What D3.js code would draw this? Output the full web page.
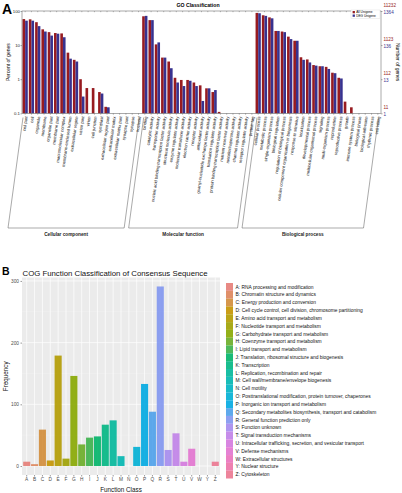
<!DOCTYPE html>
<html>
<head>
<meta charset="utf-8">
<script src="https://cdn.jsdelivr.net/npm/d3@7/dist/d3.min.js"></script>
<style>body { margin: 0; background: #fff; }</style>
</head>
<body>
<div id="canvas"></div>
<script>
"use strict"

/* ---- data: panel A, GO classification (percent of genes) ---- */
let ccTerms = ["cell part", "cell", "organelle", "membrane", "organelle part", "membrane part",
    "macromolecular complex", "membrane-enclosed lumen", "extracellular region", "virion part", "virion",
    "cell junction", "symplast", "extracellular region part", "extracellular matrix",
    "extracellular matrix part", "synapse part", "synapse", "nucleoid"];
let ccAll = [58, 57, 47, 29, 24, 22.6, 22, 6, 3.7, 1.0, 0.55, 0.55, 0.42, 0.155, 0, 0, 0, 0, 0];
let ccDeg = [52, 52, 36, 25, 19, 21.6, 17, 4, 3.3, 0.31, 0, 0, 0.38, 0.15, 0, 0, 0, 0, 0];

let mfTerms = ["binding", "catalytic activity", "transporter activity",
    "nucleic acid binding transcription factor activity", "structural molecule activity",
    "enzyme regulator activity", "molecular transducer activity", "electron carrier activity",
    "receptor activity", "antioxidant activity", "guanyl-nucleotide exchange factor activity",
    "translation regulator activity", "protein binding transcription factor activity",
    "nutrient reservoir activity", "metallochaperone activity", "channel regulator activity",
    "receptor regulator activity", "protein tag"];
let mfAll = [70, 54, 10.5, 4.3, 3.3, 1.1, 0.95, 0.95, 0.8, 0.66, 0.54, 0.42, 0.11, 0, 0, 0, 0, 0];
let mfDeg = [72, 54, 12, 4.3, 2.1, 0.8, 0.63, 0.9, 0.63, 0.23, 0.54, 0.48, 0, 0, 0, 0, 0, 0];

let bpTerms = ["cellular process", "metabolic process", "single-organism process", "biological regulation",
    "regulation of biological process", "cellular component organization or biogenesis",
    "response to stimulus", "localization", "developmental process", "multicellular organismal process",
    "signaling", "multi-organism process", "reproduction", "reproductive process", "growth",
    "immune system process", "biological phase", "biological adhesion", "rhythmic process", "cell killing"];
let bpAll = [88, 75, 65, 26, 25, 17.7, 13.4, 4.4, 3.8, 2.6, 2.4, 2.3, 1.55, 1.1, 0.22, 0.15, 0, 0, 0, 0];
let bpDeg = [86, 72, 61, 26, 24, 15, 13.4, 3.7, 3.1, 2.5, 2.4, 2.0, 1.5, 1.05, 0, 0, 0, 0, 0, 0];

let goGroups = ["Cellular component", "Molecular function", "Biological process"];
let pctTicks = [0.1, 1, 10, 100];
let pctTickLabels = ["0.1", "1", "10", "100"];
let allGeneTicks = ["11", "112", "1123", "11232"];
let degGeneTicks = ["1", "13", "136", "1364"];
let goSeries = ["All Unigene", "DEG Unigene"];

/* ---- data: panel B, COG classification ---- */
let cogClasses = ["A", "B", "C", "D", "E", "F", "G", "H", "I", "J", "K", "L", "M",
    "N", "O", "P", "Q", "R", "S", "T", "U", "V", "W", "Y", "Z"];
let cogCounts = [7, 3, 59, 9, 179, 12, 146, 35, 46, 48, 67, 74, 16,
    0, 31, 133, 88, 291, 26, 53, 7, 28, 0, 0, 7];
let cogNames = ["RNA processing and modification", "Chromatin structure and dynamics",
    "Energy production and conversion", "Cell cycle control, cell division, chromosome partitioning",
    "Amino acid transport and metabolism", "Nucleotide transport and metabolism",
    "Carbohydrate transport and metabolism", "Coenzyme transport and metabolism",
    "Lipid transport and metabolism", "Translation, ribosomal structure and biogenesis",
    "Transcription", "Replication, recombination and repair", "Cell wall/membrane/envelope biogenesis",
    "Cell motility", "Posttranslational modification, protein turnover, chaperones",
    "Inorganic ion transport and metabolism",
    "Secondary metabolites biosynthesis, transport and catabolism", "General function prediction only",
    "Function unknown", "Signal transduction mechanisms",
    "Intracellular trafficking, secretion, and vesicular transport", "Defense mechanisms",
    "Extracellular structures", "Nuclear structure", "Cytoskeleton"];
let cogTicks = [0, 100, 200, 300];

/* ---- drawing config ---- */
let svgWidth = 402;
let svgHeight = 493;
let font = "'Liberation Sans', Arial, Helvetica, sans-serif";
let red = "#971b20";
let blue = "#38328f";

// polar LUV -> sRGB hex, same colour space as ggplot's default hue palette
function hclLuv(h, c, l) {
    let Xn = 95.047, Yn = 100, Zn = 108.883;
    let un = 4 * Xn / (Xn + 15 * Yn + 3 * Zn);
    let vn = 9 * Yn / (Xn + 15 * Yn + 3 * Zn);
    let hr = h * Math.PI / 180;
    let u = c * Math.cos(hr), v = c * Math.sin(hr);
    let Y = l > 8 ? Yn * Math.pow((l + 16) / 116, 3) : Yn * l / 903.3;
    let up = u / (13 * l) + un, vp = v / (13 * l) + vn;
    let X = Y * 9 * up / (4 * vp);
    let Z = Y * (12 - 3 * up - 20 * vp) / (4 * vp);
    X /= 100; Y /= 100; Z /= 100;
    let rgb = [
        3.2404542 * X - 1.5371385 * Y - 0.4985314 * Z,
        -0.9692660 * X + 1.8760108 * Y + 0.0415560 * Z,
        0.0556434 * X - 0.2040259 * Y + 1.0572252 * Z
    ].map(function (t) {
        t = t <= 0.0031308 ? 12.92 * t : 1.055 * Math.pow(t, 1 / 2.4) - 0.055;
        return Math.round(Math.max(0, Math.min(1, t)) * 255);
    });
    return d3.rgb(rgb[0], rgb[1], rgb[2]).formatHex();
}

let svg = d3.select("#canvas")
    .append("svg")
    .attr("width", svgWidth)
    .attr("height", svgHeight)
    .style("font-family", font);

/**************** Panel A ****************/
let goLeft = 22, goRight = 381, goTop = 11, goBottom = 113.3;

let groups = [
    { name: goGroups[0], terms: ccTerms, all: ccAll, deg: ccDeg },
    { name: goGroups[1], terms: mfTerms, all: mfAll, deg: mfDeg },
    { name: goGroups[2], terms: bpTerms, all: bpAll, deg: bpDeg }
];
let rows = [];
groups.forEach(function (g, gi) {
    g.terms.forEach(function (t, i) {
        rows.push({ term: t, group: gi, all: g.all[i], deg: g.deg[i] });
    });
});

let xGo = d3.scaleBand()
    .domain(rows.map(function (d) { return d.term; }))
    .range([goLeft, goRight]);

let xPair = d3.scaleBand()
    .domain(["all", "deg"])
    .range([0, xGo.bandwidth()])
    .paddingOuter(0.2);

let yGo = d3.scaleLog()
    .domain([0.1, 100])
    .range([goBottom, goTop]);

svg.append("text")
    .attr("x", 2)
    .attr("y", 14)
    .attr("font-size", 14)
    .attr("font-weight", "bold")
    .text("A");

svg.append("text")
    .attr("x", 198)
    .attr("y", 6.5)
    .attr("text-anchor", "middle")
    .attr("font-size", 5.2)
    .attr("font-weight", "bold")
    .text("GO Classification");

// bars
let goBars = svg.append("g");
goBars.selectAll("rect.all")
    .data(rows.filter(function (d) { return d.all > 0; }))
    .join("rect")
    .attr("class", "all")
    .attr("x", function (d) { return xGo(d.term) + xPair("all"); })
    .attr("y", function (d) { return yGo(d.all); })
    .attr("width", xPair.bandwidth())
    .attr("height", function (d) { return yGo(0.1) - yGo(d.all); })
    .attr("fill", red);

goBars.selectAll("rect.deg")
    .data(rows.filter(function (d) { return d.deg > 0; }))
    .join("rect")
    .attr("class", "deg")
    .attr("x", function (d) { return xGo(d.term) + xPair("deg"); })
    .attr("y", function (d) { return yGo(d.deg); })
    .attr("width", xPair.bandwidth())
    .attr("height", function (d) { return yGo(0.1) - yGo(d.deg); })
    .attr("fill", blue);

// frame
svg.append("rect")
    .attr("x", goLeft)
    .attr("y", goTop)
    .attr("width", goRight - goLeft)
    .attr("height", goBottom - goTop)
    .attr("fill", "none")
    .attr("stroke", "#555")
    .attr("stroke-width", 0.5);

// category ticks, top and bottom
let xAxisB = svg.append("g")
    .attr("transform", "translate(0," + goBottom + ")")
    .call(d3.axisBottom(xGo).tickSize(1.5).tickFormat("").tickSizeOuter(0));
let xAxisT = svg.append("g")
    .attr("transform", "translate(0," + goTop + ")")
    .call(d3.axisBottom(xGo).tickSize(1.2).tickFormat("").tickSizeOuter(0));
[xAxisB, xAxisT].forEach(function (a) {
    a.select(".domain").remove();
    a.selectAll("line").attr("stroke", "#555").attr("stroke-width", 0.4);
});

// left axis
let yAxisL = svg.append("g")
    .attr("transform", "translate(" + goLeft + ",0)")
    .call(d3.axisLeft(yGo).tickValues(pctTicks).tickSize(1.5)
        .tickFormat(function (d, i) { return pctTickLabels[i]; }));
yAxisL.select(".domain").remove();
yAxisL.selectAll("line").attr("stroke", "#555").attr("stroke-width", 0.5);
yAxisL.selectAll("text").attr("font-size", 4.3).attr("font-family", font).attr("x", -2).attr("fill", "#222");

svg.append("text")
    .attr("transform", "translate(10," + ((goTop + goBottom) / 2) + ") rotate(-90)")
    .attr("text-anchor", "middle")
    .attr("font-size", 5)
    .text("Percent of genes");

// right axis, number of genes
let yAxisR = svg.append("g")
    .attr("transform", "translate(" + goRight + ",0)")
    .call(d3.axisRight(yGo).tickValues(pctTicks).tickSize(1.5).tickFormat(""));
yAxisR.select(".domain").remove();
yAxisR.selectAll("line").attr("stroke", "#555").attr("stroke-width", 0.5);

svg.append("g").selectAll("text")
    .data(pctTicks)
    .join("text")
    .attr("x", goRight + 2.5)
    .attr("y", function (d) { return yGo(d) - 4.2; })
    .attr("font-size", 4.6)
    .attr("fill", red)
    .text(function (d, i) { return allGeneTicks[i]; });

svg.append("g").selectAll("text")
    .data(pctTicks)
    .join("text")
    .attr("x", goRight + 2.5)
    .attr("y", function (d) { return yGo(d) + 2.6; })
    .attr("font-size", 4.6)
    .attr("fill", blue)
    .text(function (d, i) { return degGeneTicks[i]; });

svg.append("text")
    .attr("transform", "translate(396," + ((goTop + goBottom) / 2) + ") rotate(90)")
    .attr("text-anchor", "middle")
    .attr("font-size", 5)
    .text("Number of genes");

// legend
svg.append("rect")
    .attr("x", 351)
    .attr("y", 10)
    .attr("width", 29)
    .attr("height", 8.5)
    .attr("fill", "#fff")
    .attr("stroke", "#ccc")
    .attr("stroke-width", 0.3);
svg.append("g").selectAll("g")
    .data(goSeries)
    .join("g")
    .attr("transform", function (d, i) { return "translate(352.6," + (11 + i * 3.5) + ")"; })
    .each(function (d, i) {
        let g = d3.select(this);
        g.append("rect").attr("width", 2.3).attr("height", 2.3).attr("fill", i === 0 ? red : blue);
        g.append("text").attr("x", 3.6).attr("y", 2.1).attr("font-size", 3.2).text(d);
    });

// rotated category labels
let labelY = 116.5;
svg.append("g").selectAll("text")
    .data(rows)
    .join("text")
    .attr("transform", function (d) {
        return "translate(" + (xGo(d.term) + xGo.bandwidth() / 2 + 1) + "," + labelY + ") rotate(-82)";
    })
    .attr("text-anchor", "end")
    .attr("dy", "0.35em")
    .attr("font-size", 4.2)
    .attr("fill", "#111")
    .text(function (d) { return d.term; });

// group brackets
let slant = 15;
let bracketTop = 117.5, bracketBottom = 228;
groups.forEach(function (g, gi) {
    let x0 = xGo(g.terms[0]) + (gi === 0 ? 1 : 2);
    let x1 = xGo(g.terms[g.terms.length - 1]) + xGo.bandwidth() - 2.5;
    let pts = [[x0, bracketTop], [x0 - slant, bracketBottom], [x1 - slant, bracketBottom], [x1, bracketTop]];
    svg.append("path")
        .attr("d", d3.line()(pts))
        .attr("fill", "none")
        .attr("stroke", "#555")
        .attr("stroke-width", 0.5);
    svg.append("text")
        .attr("x", (x0 + x1) / 2 - slant)
        .attr("y", 235.5)
        .attr("text-anchor", "middle")
        .attr("font-size", 4.7)
        .attr("font-weight", "bold")
        .attr("fill", "#222")
        .text(g.name);
});

/**************** Panel B ****************/
let cogLeft = 22, cogRight = 220, cogTop = 277.5, cogBottom = 475;
let cogColors = cogClasses.map(function (c, i) {
    return hclLuv(15 + 360 * i / cogClasses.length, 78, 64);
});

let xCog = d3.scaleBand()
    .domain(cogClasses)
    .range([cogLeft, cogRight])
    .paddingInner(0.1)
    .paddingOuter(0.15);

let maxCount = d3.max(cogCounts);
let yCog = d3.scaleLinear()
    .domain([-0.05 * maxCount, 1.05 * maxCount])
    .range([cogBottom, cogTop]);

svg.append("text")
    .attr("x", 2)
    .attr("y", 275)
    .attr("font-size", 10.5)
    .attr("font-weight", "bold")
    .text("B");

svg.append("text")
    .attr("x", 22.5)
    .attr("y", 275.5)
    .attr("font-size", 7.8)
    .attr("fill", "#111")
    .text("COG Function Classification of Consensus Sequence");

svg.append("rect")
    .attr("x", cogLeft)
    .attr("y", cogTop)
    .attr("width", cogRight - cogLeft)
    .attr("height", cogBottom - cogTop)
    .attr("fill", "#ebebeb");

let grid = svg.append("g");
grid.selectAll("line.minor")
    .data(d3.range(50, 300, 100))
    .join("line")
    .attr("x1", cogLeft).attr("x2", cogRight)
    .attr("y1", function (d) { return yCog(d); })
    .attr("y2", function (d) { return yCog(d); })
    .attr("stroke", "#f7f7f7")
    .attr("stroke-width", 0.35);
grid.selectAll("line.hmajor")
    .data(cogTicks)
    .join("line")
    .attr("x1", cogLeft).attr("x2", cogRight)
    .attr("y1", function (d) { return yCog(d); })
    .attr("y2", function (d) { return yCog(d); })
    .attr("stroke", "#fff")
    .attr("stroke-width", 0.7);
grid.selectAll("line.vmajor")
    .data(cogClasses)
    .join("line")
    .attr("y1", cogTop).attr("y2", cogBottom)
    .attr("x1", function (d) { return xCog(d) + xCog.bandwidth() / 2; })
    .attr("x2", function (d) { return xCog(d) + xCog.bandwidth() / 2; })
    .attr("stroke", "#fff")
    .attr("stroke-width", 0.7);

svg.append("g").selectAll("rect")
    .data(cogCounts)
    .join("rect")
    .attr("x", function (d, i) { return xCog(cogClasses[i]); })
    .attr("y", function (d) { return yCog(d); })
    .attr("width", xCog.bandwidth())
    .attr("height", function (d) { return yCog(0) - yCog(d); })
    .attr("fill", function (d, i) { return cogColors[i]; })
    .attr("fill-opacity", 0.9);

let cogY = svg.append("g")
    .attr("transform", "translate(" + cogLeft + ",0)")
    .call(d3.axisLeft(yCog).tickValues(cogTicks).tickSize(1.5).tickPadding(1.5));
let cogX = svg.append("g")
    .attr("transform", "translate(0," + cogBottom + ")")
    .call(d3.axisBottom(xCog).tickSize(1.5).tickPadding(1.5));
[cogY, cogX].forEach(function (a) {
    a.select(".domain").remove();
    a.selectAll("line").attr("stroke", "#333").attr("stroke-width", 0.5);
    a.selectAll("text").attr("font-size", 4.8).attr("font-family", font).attr("fill", "#4d4d4d");
});

svg.append("text")
    .attr("transform", "translate(8," + ((cogTop + cogBottom) / 2) + ") rotate(-90)")
    .attr("text-anchor", "middle")
    .attr("font-size", 6.3)
    .attr("fill", "#111")
    .text("Frequency");

svg.append("text")
    .attr("x", (cogLeft + cogRight) / 2)
    .attr("y", 491.5)
    .attr("text-anchor", "middle")
    .attr("font-size", 6.3)
    .attr("fill", "#111")
    .text("Function Class");

// COG legend
let keyH = 7.82;
let keys = svg.append("g").selectAll("g")
    .data(cogClasses)
    .join("g")
    .attr("transform", function (d, i) { return "translate(226," + (283 + i * keyH) + ")"; });
keys.append("rect")
    .attr("width", 7)
    .attr("height", keyH)
    .attr("fill", function (d, i) { return cogColors[i]; })
    .attr("fill-opacity", 0.9);
keys.append("text")
    .attr("x", 9.5)
    .attr("y", keyH / 2)
    .attr("dy", "0.35em")
    .attr("font-size", 4.9)
    .attr("fill", "#111")
    .text(function (d, i) { return d + ": " + cogNames[i]; });
</script>
</body>
</html>
